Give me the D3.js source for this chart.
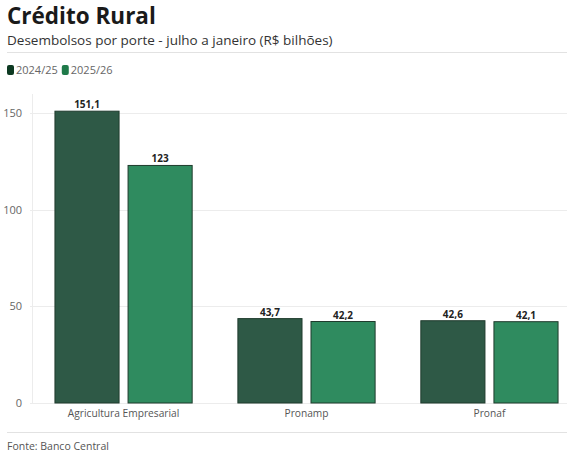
<!DOCTYPE html>
<html>
<head>
<meta charset="utf-8">
<script src="https://cdn.jsdelivr.net/npm/d3@7"></script>
<style>
  body { margin: 0; background: #fff; }
  text { font-family: "Open Sans", sans-serif; }
</style>
</head>
<body>
<div id="chart"></div>
<script>
// Data
const categories = ["Agricultura Empresarial", "Pronamp", "Pronaf"];
const seriesNames = ["2024/25", "2025/26"];
const values2024 = [151.1, 43.7, 42.6];
const values2025 = [123, 42.2, 42.1];
const yTicks = [0, 50, 100, 150];

const svgWidth = 567,
      svgHeight = 457,
      margin = { top: 94, right: 0, bottom: 54, left: 33 };

const height = svgHeight - margin.top - margin.bottom;

const barColors = ["#2e5946", "#2f8b5f"];
const legendColors = ["#0d3a22", "#1f7a4a"];

const svg = d3.select("#chart")
  .append("svg")
  .attr("width", svgWidth)
  .attr("height", svgHeight);

// header
svg.append("text")
  .attr("x", 7).attr("y", 23.5)
  .attr("font-size", "22.5px").attr("font-weight", 700)
  .attr("fill", "#1a1a1a")
  .text("Crédito Rural");

svg.append("text")
  .attr("x", 7).attr("y", 45)
  .attr("font-size", "13.5px")
  .attr("fill", "#333")
  .text("Desembolsos por porte - julho a janeiro (R$ bilhões)");

svg.append("line")
  .attr("x1", 7).attr("x2", svgWidth)
  .attr("y1", 52.5).attr("y2", 52.5)
  .attr("stroke", "#e2e2e2");

// legend
const legend = svg.append("g").attr("transform", "translate(7, 65)");
let lx = 0;
seriesNames.forEach(function(name, i) {
  legend.append("rect")
    .attr("x", lx).attr("y", 0)
    .attr("width", 7).attr("height", 10)
    .attr("rx", 2)
    .attr("fill", legendColors[i]);
  const t = legend.append("text")
    .attr("x", lx + 9).attr("y", 9)
    .attr("font-size", "11px")
    .attr("fill", "#666")
    .text(name);
  lx += 9 + t.node().getComputedTextLength() + 4;
});

// scales
const x0 = d3.scaleBand()
  .domain(categories)
  .range([margin.left, 580])
  .paddingInner(0.25)
  .paddingOuter(0.12);

const x1 = d3.scaleBand()
  .domain(seriesNames)
  .range([0, x0.bandwidth()])
  .paddingInner(0.123);

const y = d3.scaleLinear()
  .domain([0, 160])
  .range([margin.top + height, margin.top]);

// grid
svg.append("g")
  .selectAll("line")
  .data(yTicks)
  .enter()
  .append("line")
  .attr("x1", margin.left - 3).attr("x2", svgWidth)
  .attr("y1", d => Math.round(y(d)) + 0.5)
  .attr("y2", d => Math.round(y(d)) + 0.5)
  .attr("stroke", "#ececec");

svg.append("line")
  .attr("x1", margin.left - 0.5).attr("x2", margin.left - 0.5)
  .attr("y1", margin.top).attr("y2", y(0))
  .attr("stroke", "#ececec");

// y axis
const yAxis = svg.append("g")
  .attr("transform", `translate(${margin.left - 8}, 0)`)
  .call(d3.axisLeft(y).tickValues(yTicks).tickSize(0).tickFormat(d3.format("d")));
yAxis.select(".domain").remove();
yAxis.selectAll("text")
  .attr("font-family", "Open Sans, sans-serif")
  .attr("font-size", "11px")
  .attr("fill", "#666");

// bars
const rows = categories.map((c, i) => ({ cat: c, vals: [values2024[i], values2025[i]] }));
const fmt = v => String(v).replace(".", ",");

const groups = svg.append("g")
  .selectAll("g")
  .data(rows)
  .enter()
  .append("g")
  .attr("transform", d => `translate(${x0(d.cat)}, 0)`);

groups.selectAll("rect")
  .data(d => d.vals.map((v, i) => ({ key: seriesNames[i], v: v, i: i })))
  .enter()
  .append("rect")
  .attr("x", d => x1(d.key))
  .attr("y", d => y(d.v))
  .attr("width", x1.bandwidth())
  .attr("height", d => y(0) - y(d.v))
  .attr("fill", d => barColors[d.i])
  .attr("stroke", "#1f3b2d")
  .attr("stroke-width", 1);

groups.selectAll("text")
  .data(d => d.vals.map((v, i) => ({ key: seriesNames[i], v: v, i: i })))
  .enter()
  .append("text")
  .attr("x", d => x1(d.key) + x1.bandwidth() / 2)
  .attr("y", d => y(d.v) - 3)
  .attr("text-anchor", "middle")
  .attr("font-size", "10px")
  .attr("font-weight", 700)
  .attr("fill", "#222")
  .text(d => fmt(d.v));

// x labels
svg.append("g")
  .selectAll("text")
  .data(categories)
  .enter()
  .append("text")
  .attr("x", d => x0(d) + x0.bandwidth() / 2)
  .attr("y", 417)
  .attr("text-anchor", "middle")
  .attr("font-size", "10.2px")
  .attr("fill", "#555")
  .text(d => d);

// footer
svg.append("line")
  .attr("x1", 7).attr("x2", svgWidth)
  .attr("y1", 432.5).attr("y2", 432.5)
  .attr("stroke", "#e2e2e2");

svg.append("text")
  .attr("x", 7).attr("y", 450)
  .attr("font-size", "10.5px")
  .attr("fill", "#555")
  .text("Fonte: Banco Central");
</script>
</body>
</html>
